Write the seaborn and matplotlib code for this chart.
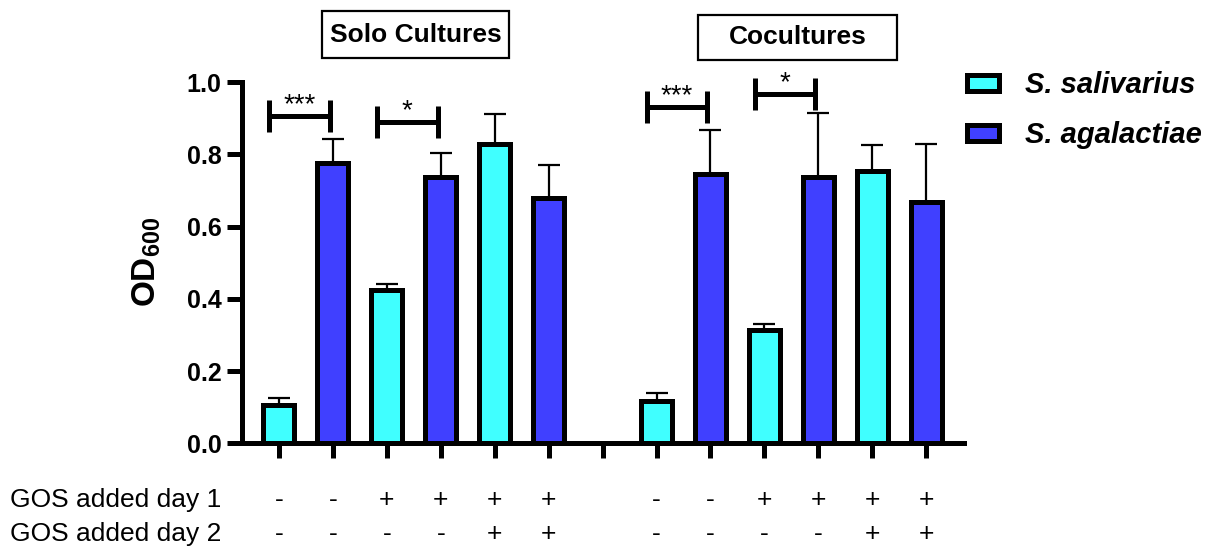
import numpy as np
import pandas as pd
import matplotlib
matplotlib.use("Agg")
import matplotlib.pyplot as plt
from matplotlib.patches import Patch, Rectangle
from matplotlib.transforms import blended_transform_factory
import seaborn as sns

# ---- data -------------------------------------------------------------
slots = [0, 1, 2, 3, 4, 5, 7, 8, 9, 10, 11, 12]
species = ["S. salivarius", "S. agalactiae"] * 6
od_mean = [0.107, 0.777, 0.425, 0.736, 0.828, 0.680,
           0.118, 0.745, 0.314, 0.738, 0.754, 0.668]
od_sd = [0.018, 0.065, 0.015, 0.068, 0.083, 0.089,
         0.020, 0.122, 0.016, 0.175, 0.071, 0.160]
gos_day1 = ["-", "-", "+", "+", "+", "+", "-", "-", "+", "+", "+", "+"]
gos_day2 = ["-", "-", "-", "-", "+", "+", "-", "-", "-", "-", "+", "+"]
row_labels = ["GOS added day 1", "GOS added day 2"]
group_titles = ["Solo Cultures", "Cocultures"]
sig_pairs = [(0, 1), (2, 3), (7, 8), (9, 10)]
sig_marks = ["***", "*", "***", "*"]
sig_heights = [0.906, 0.889, 0.931, 0.967]
yticks = [0.0, 0.2, 0.4, 0.6, 0.8, 1.0]

colors = {"S. salivarius": "#40FFFF", "S. agalactiae": "#4040FF"}

df = pd.DataFrame({"slot": slots, "od": od_mean, "sd": od_sd, "species": species})

# ---- style ------------------------------------------------------------
sns.set_style("ticks")
plt.rcParams["font.family"] = ["Liberation Sans", "DejaVu Sans"]
plt.rcParams["mathtext.fontset"] = "custom"
plt.rcParams["mathtext.bf"] = "Liberation Sans:bold"
plt.rcParams["mathtext.rm"] = "Liberation Sans"
for key in ["text.color", "axes.labelcolor", "xtick.color", "ytick.color", "axes.edgecolor"]:
    plt.rcParams[key] = "black"

W, H = 1215, 547
fig = plt.figure(figsize=(W / 100, H / 100), dpi=100)
ax = fig.add_axes([241.5 / W, 1 - 443.3 / H, (964 - 241.5) / W, (443.3 - 82) / H])

LW = 3.6
sns.barplot(data=df, x="slot", y="od", hue="species", palette=colors,
            native_scale=True, dodge=False, errorbar=None, width=0.575,
            saturation=1, edgecolor="black", linewidth=LW, ax=ax, legend=False)

# upper-only error bars
ax.errorbar(df["slot"], df["od"], yerr=[np.zeros(len(df)), df["sd"]],
            fmt="none", ecolor="black", elinewidth=1.6, capsize=8,
            capthick=1.6, zorder=0.5)

# ---- axes -------------------------------------------------------------
ax.set_xlim(-0.695, 12.70)
ax.set_ylim(0, 1.0)
ax.set_xticks(range(13))
ax.set_xticklabels([])
ax.set_yticks(yticks)
ax.set_yticklabels([f"{v:.1f}" for v in yticks], fontsize=18, fontweight="bold")
ax.tick_params(axis="both", direction="out", width=LW, length=11, color="black")
ax.tick_params(axis="y", pad=3.5)
for side in ["top", "right"]:
    ax.spines[side].set_visible(False)
for side in ["left", "bottom"]:
    ax.spines[side].set_linewidth(LW)
    ax.spines[side].set_color("black")
    ax.spines[side].set_capstyle("projecting")
ax.set_xlabel("")
ax.set_ylabel(r"$\mathbf{OD_{600}}$", fontsize=24)
ax.yaxis.set_label_coords(-0.1087, 0.503)

# ---- significance brackets -------------------------------------------
for (i, j), mark, h in zip(sig_pairs, sig_marks, sig_heights):
    x0, x1 = i - 0.18, j - 0.06
    dh = 0.044
    ax.plot([x0, x1], [h, h], color="black", lw=LW, solid_capstyle="butt", clip_on=False)
    ax.plot([x0, x0], [h - dh, h + dh], color="black", lw=LW, solid_capstyle="butt", clip_on=False)
    ax.plot([x1, x1], [h - dh, h + dh], color="black", lw=LW, solid_capstyle="butt", clip_on=False)
    ax.text((x0 + x1) / 2, h - 0.006, mark, ha="center", va="bottom",
            fontsize=20, clip_on=False)

# ---- legend -----------------------------------------------------------
handles = [Patch(facecolor=colors[s], edgecolor="black", linewidth=LW)
           for s in ["S. salivarius", "S. agalactiae"]]
ax.legend(handles, ["S. salivarius", "S. agalactiae"],
          loc="upper left", bbox_to_anchor=(967 / W, 1 - 71 / H),
          bbox_transform=fig.transFigure, frameon=False,
          prop={"size": 21, "weight": "bold", "style": "italic"},
          handlelength=1.1, handleheight=0.48, handletextpad=0.9,
          labelspacing=0.76, borderpad=0, borderaxespad=0)

# ---- group titles in boxes -------------------------------------------
boxes = [(322, 11, 509, 58), (698, 15, 897, 60)]
for title, (bx0, by0, bx1, by1) in zip(group_titles, boxes):
    fig.add_artist(Rectangle((bx0 / W, 1 - by1 / H), (bx1 - bx0) / W, (by1 - by0) / H,
                             transform=fig.transFigure, fill=False,
                             edgecolor="black", linewidth=1.6))
    fig.text((bx0 + bx1) / 2 / W, 1 - (by0 + by1) / 2 / H, title,
             ha="center", va="center", fontsize=19, fontweight="bold")

# ---- treatment table under the axis ----------------------------------
tr = blended_transform_factory(ax.transData, fig.transFigure)
row_y = [1 - 500 / H, 1 - 534 / H]
for lab, y in zip(row_labels, row_y):
    fig.text(10 / W, y, lab, ha="left", va="center", fontsize=19)
for s, a, b in zip(slots, gos_day1, gos_day2):
    ax.text(s, row_y[0], a, transform=tr, ha="center", va="center", fontsize=19, clip_on=False)
    ax.text(s, row_y[1], b, transform=tr, ha="center", va="center", fontsize=19, clip_on=False)

fig.savefig("out.png", dpi=100)
